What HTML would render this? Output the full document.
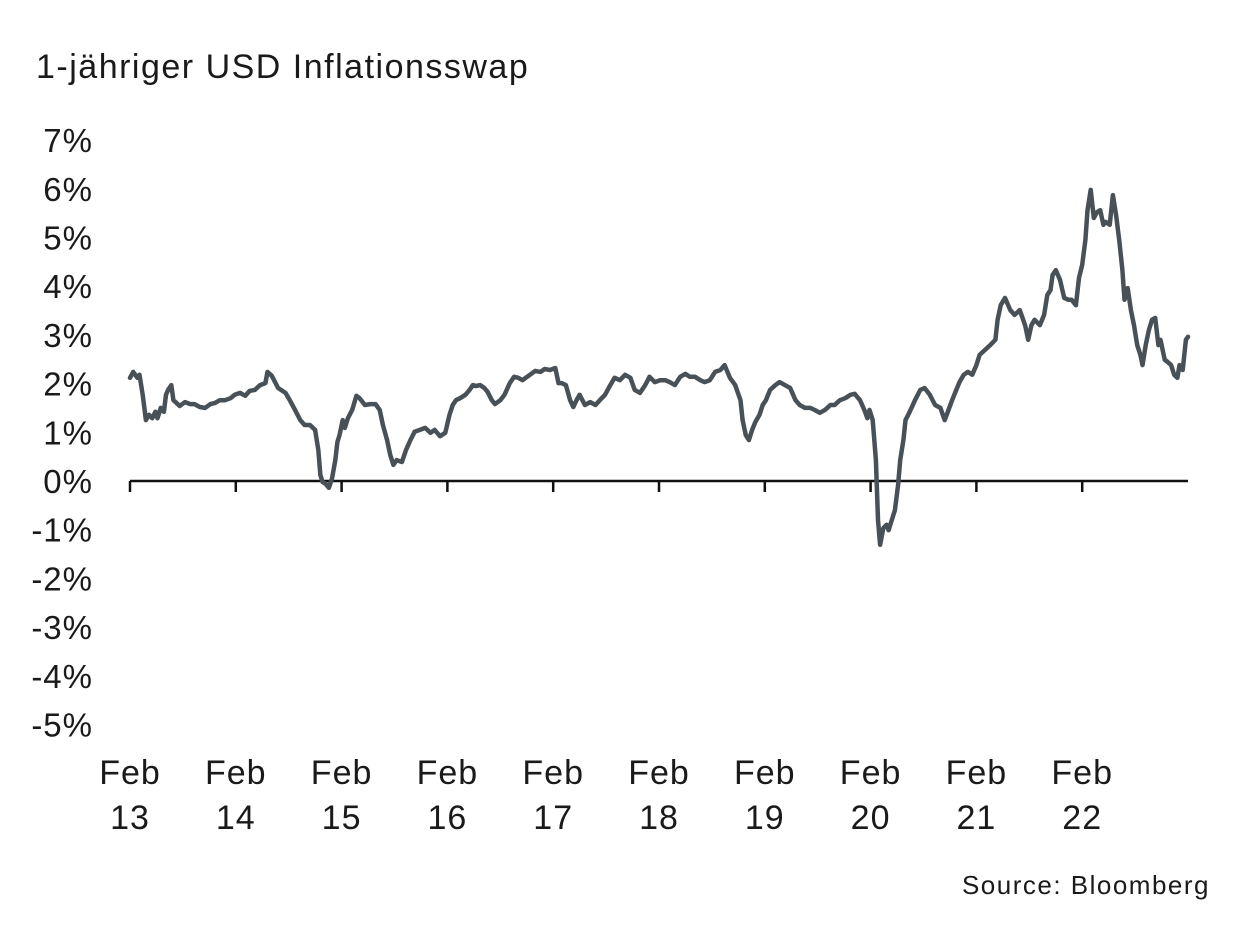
<!DOCTYPE html>
<html><head><meta charset="utf-8">
<style>
html,body{margin:0;padding:0;background:#fff;}
svg{display:block;font-family:"Liberation Sans",sans-serif;}
</style></head>
<body>
<svg id="chart" width="1249" height="949" viewBox="0 0 1249 949">
<text x="36" y="78" font-size="34" letter-spacing="1.5" fill="#1a1a1a">1-jähriger USD Inflationsswap</text>
<g id="yaxis"></g>
<g id="xaxis"></g>
<g id="series"></g>
<text x="1210" y="894" font-size="26" letter-spacing="1.5" text-anchor="end" fill="#1a1a1a">Source: Bloomberg</text>
</svg>
<script>
// years since Feb 2013
const dates=[0,.03,.07,.09,.12,.15,.18,.21,.24,.26,.29,.32,.34,.36,.39,.41,.43,.47,.52,.57,.61,.66,.71,.76,.80,.85,.90,.95,.99,1.04,1.09,1.13,1.18,1.23,1.28,1.30,1.34,1.40,1.47,1.51,1.56,1.61,1.65,1.70,1.75,1.78,1.80,1.82,1.85,1.88,1.91,1.94,1.96,1.98,2.01,2.03,2.06,2.10,2.14,2.17,2.22,2.27,2.32,2.36,2.39,2.43,2.46,2.49,2.52,2.57,2.61,2.65,2.69,2.74,2.79,2.84,2.88,2.93,2.98,3.02,3.05,3.08,3.12,3.17,3.21,3.24,3.27,3.31,3.35,3.38,3.42,3.45,3.50,3.54,3.59,3.63,3.67,3.71,3.74,3.78,3.83,3.88,3.92,3.97,4.02,4.05,4.08,4.12,4.16,4.19,4.22,4.25,4.30,4.35,4.40,4.44,4.49,4.54,4.58,4.63,4.68,4.73,4.77,4.82,4.87,4.91,4.96,5.01,5.06,5.10,5.15,5.20,5.25,5.29,5.34,5.39,5.43,5.48,5.53,5.58,5.62,5.67,5.72,5.77,5.79,5.82,5.85,5.88,5.91,5.95,5.98,6.01,6.05,6.10,6.14,6.19,6.24,6.29,6.33,6.38,6.43,6.47,6.52,6.57,6.62,6.66,6.71,6.76,6.81,6.85,6.90,6.94,6.97,6.99,7.02,7.05,7.07,7.09,7.12,7.15,7.17,7.20,7.23,7.26,7.28,7.31,7.33,7.37,7.42,7.47,7.51,7.56,7.61,7.66,7.70,7.73,7.77,7.81,7.84,7.88,7.92,7.96,8.00,8.03,8.08,8.13,8.18,8.20,8.23,8.27,8.32,8.36,8.41,8.46,8.49,8.52,8.55,8.60,8.64,8.67,8.70,8.72,8.75,8.79,8.83,8.87,8.90,8.94,8.97,9.00,9.03,9.05,9.08,9.11,9.14,9.17,9.20,9.22,9.26,9.29,9.32,9.35,9.38,9.40,9.43,9.46,9.49,9.52,9.55,9.57,9.60,9.63,9.66,9.69,9.72,9.74,9.78,9.81,9.84,9.87,9.90,9.92,9.95,9.98,10.0];
const values=[2.12,2.24,2.12,2.18,1.77,1.25,1.36,1.29,1.42,1.29,1.50,1.42,1.77,1.87,1.97,1.66,1.62,1.54,1.62,1.58,1.58,1.52,1.50,1.58,1.60,1.66,1.66,1.70,1.77,1.81,1.75,1.85,1.87,1.97,2.01,2.24,2.16,1.91,1.81,1.66,1.46,1.25,1.15,1.15,1.05,0.64,0.12,-0.02,-0.06,-0.14,0.06,0.43,0.80,0.94,1.25,1.09,1.29,1.46,1.75,1.70,1.56,1.58,1.58,1.46,1.15,0.84,0.53,0.33,0.43,0.39,0.64,0.84,1.01,1.05,1.09,0.99,1.05,0.92,0.99,1.36,1.56,1.66,1.70,1.77,1.87,1.97,1.95,1.97,1.91,1.83,1.66,1.58,1.66,1.77,2.01,2.14,2.12,2.07,2.12,2.18,2.26,2.24,2.30,2.28,2.32,2.01,2.01,1.97,1.66,1.52,1.66,1.77,1.56,1.62,1.56,1.66,1.77,1.97,2.12,2.07,2.18,2.12,1.87,1.81,1.97,2.14,2.03,2.07,2.07,2.03,1.97,2.14,2.20,2.14,2.14,2.07,2.03,2.07,2.24,2.28,2.38,2.12,1.97,1.66,1.25,0.94,0.84,1.05,1.21,1.36,1.56,1.66,1.87,1.97,2.03,1.97,1.91,1.66,1.56,1.50,1.50,1.46,1.40,1.46,1.56,1.56,1.66,1.70,1.77,1.79,1.66,1.46,1.29,1.46,1.25,0.43,-0.80,-1.31,-0.97,-0.90,-1.01,-0.80,-0.60,-0.08,0.43,0.84,1.25,1.42,1.66,1.87,1.91,1.77,1.56,1.50,1.25,1.42,1.66,1.87,2.03,2.18,2.24,2.18,2.38,2.59,2.69,2.79,2.90,3.31,3.61,3.76,3.51,3.41,3.51,3.20,2.90,3.20,3.31,3.20,3.41,3.82,3.92,4.23,4.33,4.13,3.76,3.72,3.72,3.61,4.17,4.44,4.95,5.56,5.98,5.40,5.52,5.56,5.26,5.32,5.26,5.87,5.46,4.95,4.33,3.72,3.96,3.51,3.20,2.79,2.59,2.38,2.79,3.10,3.31,3.35,2.79,2.90,2.49,2.44,2.38,2.18,2.12,2.38,2.28,2.90,2.96];
const yTicks=[7,6,5,4,3,2,1,0,-1,-2,-3,-4,-5];
const xTickYears=["13","14","15","16","17","18","19","20","21","22"];
const NS="http://www.w3.org/2000/svg";
const x0=130,xPerYear=105.8,y0=481,yPerPct=48.7;
function xs(t){return x0+t*xPerYear;}
function ys(v){return y0-v*yPerPct;}
function mk(tag,attrs,parent){const e=document.createElementNS(NS,tag);for(const k in attrs)e.setAttribute(k,attrs[k]);parent.appendChild(e);return e;}
const ya=document.getElementById('yaxis'),xa=document.getElementById('xaxis'),sg=document.getElementById('series');
yTicks.forEach(v=>{
  const t=mk('text',{x:93,y:ys(v)+12,'font-size':33,'letter-spacing':1,'text-anchor':'end',fill:'#1a1a1a'},ya);
  
  
  t.textContent=v+'%';
});
const axl=mk('line',{x1:xs(0),x2:xs(10),y1:ys(0),y2:ys(0),stroke:'#111',"stroke-width":2.5},xa);


xTickYears.forEach((lab,i)=>{
  const x=xs(i);
  const tk=mk('line',{x1:x,x2:x,y1:ys(0),y2:ys(0)+11,stroke:'#111',"stroke-width":2.5},xa);
  
  
  const t1=mk('text',{x:x,y:784,'font-size':34,'letter-spacing':1,'text-anchor':'middle',fill:'#1a1a1a'},xa);
  
  
  t1.textContent='Feb';
  const t2=mk('text',{x:x,y:829,'font-size':34,'letter-spacing':1,'text-anchor':'middle',fill:'#1a1a1a'},xa);
  
  
  t2.textContent=lab;
});
let d='';
dates.forEach((t,i)=>{d+=(i?'L':'M')+xs(t).toFixed(1)+' '+ys(values[i]).toFixed(1);});
const p=mk('path',{d:d,fill:'none',stroke:'#495158','stroke-width':4.5,'stroke-linejoin':'round','stroke-linecap':'round'},sg);


</script>
</body></html>
